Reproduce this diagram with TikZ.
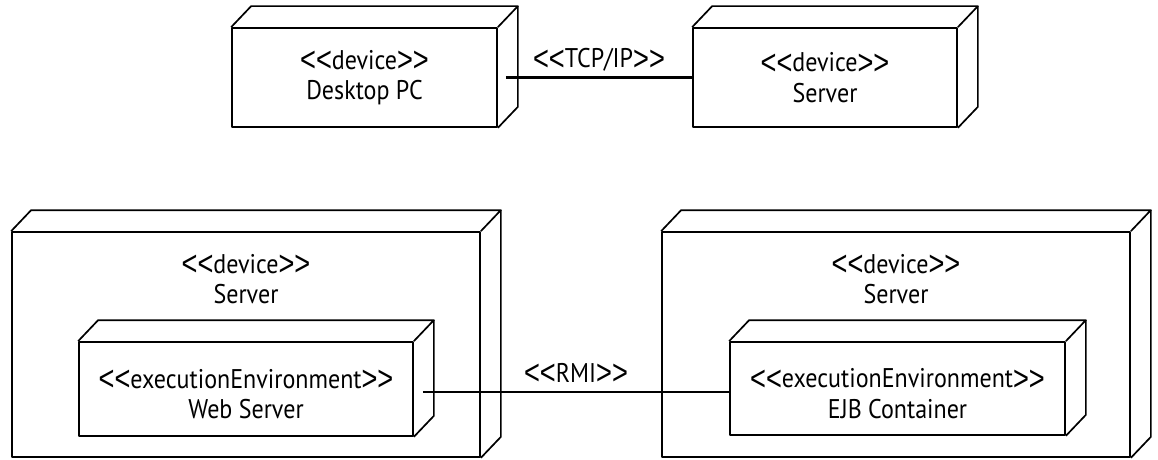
\documentclass[tikz,border=0pt]{standalone}
\usepackage{graphicx}
\usepackage{fontspec}
\setmainfont[Ligatures=TeXOff, FakeStretch=0.89]{PT Sans}
\newfontfamily\anglefont{Liberation Sans}
\usetikzlibrary{calc}
\newcommand{\LT}{\raisebox{-2.5pt}{\scalebox{0.8}[1.03]{\fontsize{34}{30}\anglefont <}}}
\newcommand{\GT}{\raisebox{-2.5pt}{\scalebox{0.8}[1.03]{\fontsize{34}{30}\anglefont >}}}
\newcommand{\depthfaces}[1]{%
  \draw[boxline] (#1.north west) -- ++(20,21) -- ([shift={(20,21)}]#1.north east) -- (#1.north east);
  \draw[boxline] ([shift={(20,21)}]#1.north east) -- ([shift={(20,21)}]#1.south east) -- (#1.south east);
}
\begin{document}
\begin{tikzpicture}[x=1pt,y=1pt,
  boxline/.style={line width=1.7pt, line join=round},
  plainbox/.style={draw, boxline, inner sep=0pt},
  nodebox/.style={draw, boxline, inner sep=0pt, align=center, font=\fontsize{27}{30.5}\selectfont},
  lbl/.style={align=center, inner sep=0pt, font=\fontsize{27}{30.5}\selectfont},
  conn/.style={line width=2.8pt}]
\useasboundingbox (0,0) rectangle (1158,459);
% top row
\node[nodebox, minimum width=265pt, minimum height=99pt] (pc) at (364.5,381.5) {\LT\LT device\GT\GT\\Desktop PC};
\node[nodebox, minimum width=264pt, minimum height=99pt] (srv) at (825,381.5) {\LT\LT device\GT\GT\\Server};
\depthfaces{pc}
\depthfaces{srv}
\coordinate (tcpstart) at ($(pc.east)+(8,0)$);
\draw[conn] (tcpstart) -- (srv.west) node[lbl, midway, anchor=base, yshift=10pt] {\LT\LT TCP/IP\GT\GT};
% bottom row
\node[plainbox, minimum width=468pt, minimum height=225pt] (ls) at (246,114.5) {};
\depthfaces{ls}
\node[lbl] (lslbl) at ($(ls.north)+(0,-48)$) {\LT\LT device\GT\GT\\Server};
\node[plainbox, minimum width=334pt, minimum height=94pt] (web) at (246,70) {};
\depthfaces{web}
\node[lbl] (weblbl) at ($(web.center)+(0,-5)$) {\LT\LT executionEnvironment\GT\GT\\Web Server};
\node[plainbox, minimum width=468pt, minimum height=225pt] (rs) at (896,114.5) {};
\depthfaces{rs}
\node[lbl] (rslbl) at ($(rs.north)+(0,-48)$) {\LT\LT device\GT\GT\\Server};
\node[plainbox, minimum width=335pt, minimum height=93pt] (ejb) at (897.5,70.5) {};
\depthfaces{ejb}
\node[lbl] (ejblbl) at ($(ejb.center)+(0,-5)$) {\LT\LT executionEnvironment\GT\GT\\EJB Container};
\coordinate (rmistart) at ($(web.east)+(9,-3)$);
\draw[conn] (rmistart) -- (rmistart -| ejb.west) node[lbl, midway, anchor=base, yshift=10pt] {\LT\LT RMI\GT\GT};
\end{tikzpicture}
\end{document}
